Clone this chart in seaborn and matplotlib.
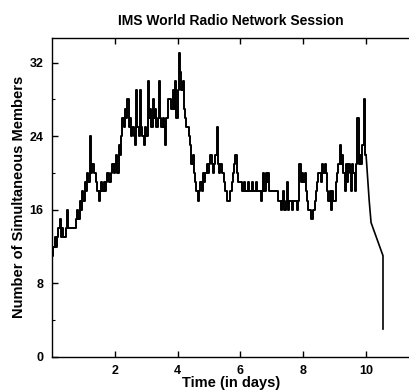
import numpy as np
import pandas as pd
import matplotlib
matplotlib.use("Agg")
import matplotlib.pyplot as plt
from matplotlib.ticker import MultipleLocator
import seaborn as sns

# ---- data ----
step_days = 0.04  # sampling interval of the member-count series (days)
day0 = [11, 12, 13, 12, 13, 14, 15, 13, 14, 13, 13, 14, 16, 14, 14, 14, 14, 14, 14, 15, 16, 15, 17, 16, 18]
day1 = [17, 19, 18, 20, 19, 24, 20, 21, 20, 20, 19, 18, 17, 18, 19, 18, 19, 18, 19, 20, 19, 19, 20, 21, 20]
day2 = [21, 22, 20, 23, 22, 24, 26, 25, 27, 26, 28, 25, 26, 24, 25, 24, 23, 29, 25, 24, 29, 25, 24, 23, 25]
day3 = [24, 30, 26, 27, 25, 28, 26, 27, 25, 26, 30, 26, 25, 26, 25, 23, 26, 28, 28, 28, 27, 29, 27, 30, 26]
day4 = [29, 33, 31, 29, 30, 27, 26, 25, 25, 24, 23, 21, 22, 20, 19, 18, 17, 18, 19, 18, 20, 19, 20, 21, 20]
day5 = [21, 22, 21, 20, 21, 22, 25, 21, 20, 21, 20, 20, 19, 18, 17, 17, 17, 18, 19, 20, 21, 22, 20, 19, 19]
day6 = [19, 18, 18, 19, 18, 18, 19, 18, 18, 19, 18, 18, 19, 18, 18, 18, 17, 18, 20, 18, 20, 19, 20, 18, 18]
day7 = [18, 18, 18, 18, 18, 17, 17, 16, 17, 18, 16, 17, 19, 16, 17, 17, 16, 17, 17, 17, 16, 17, 21, 19, 20]
day8 = [19, 20, 18, 17, 16, 16, 15, 15, 16, 17, 18, 19, 20, 20, 19, 21, 20, 21, 20, 18, 17, 18, 16, 18, 17]
day9 = [17, 19, 20, 21, 23, 21, 22, 20, 18, 21, 19, 21, 20, 18, 21, 20, 18, 21, 26, 21, 22, 21, 23, 28, 22]
# end of session: members leaving
tail_days = [10.00, 10.10, 10.16, 10.54, 10.54]
tail_members = [22, 17, 14.6, 11, 3]

title = "IMS World Radio Network Session"
xlabel = "Time (in days)"
ylabel = "Number of Simultaneous Members"
xticks = [2, 4, 6, 8, 10]
yticks = [0, 8, 16, 24, 32]

# ---- build tables ----
members = day0 + day1 + day2 + day3 + day4 + day5 + day6 + day7 + day8 + day9
members = members + [tail_members[0]]
days = [round(i * step_days, 2) for i in range(len(members))]
df_main = pd.DataFrame({"days": days, "members": members})
df_tail = pd.DataFrame({"days": tail_days, "members": tail_members})

# ---- style ----
sns.set_style("ticks")
plt.rcParams["font.family"] = ["Liberation Sans", "DejaVu Sans"]
plt.rcParams["font.weight"] = "bold"
for key in ["text.color", "axes.labelcolor", "xtick.color", "ytick.color",
            "axes.edgecolor"]:
    plt.rcParams[key] = "black"

fig = plt.figure(figsize=(4.10, 3.90), dpi=100)
ax = fig.add_axes([0.127, 0.085, 0.873, 0.818])

sns.lineplot(data=df_main, x="days", y="members", ax=ax, color="black",
             linewidth=1.4, drawstyle="steps-post", estimator=None, sort=False)
sns.lineplot(data=df_tail, x="days", y="members", ax=ax, color="black",
             linewidth=1.2, estimator=None, sort=False)

ax.set_xlim(0, 11.4)
ax.set_ylim(0, 34.7)
ax.set_xticks(xticks)
ax.set_yticks(yticks)
ax.yaxis.set_minor_locator(MultipleLocator(4))
ax.tick_params(axis="both", which="both", direction="in", top=True, right=False,
               colors="black")
ax.tick_params(axis="both", which="major", length=4, width=1, labelsize=9, pad=6)
ax.tick_params(axis="y", which="minor", length=2, width=0.8)
for lab in ax.get_xticklabels() + ax.get_yticklabels():
    lab.set_fontweight("bold")
    lab.set_color("black")

for side in ["left", "bottom", "top"]:
    ax.spines[side].set_visible(True)
    ax.spines[side].set_linewidth(1.0)
    ax.spines[side].set_color("black")
ax.spines["right"].set_visible(False)

ax.set_title(title, fontsize=10, fontweight="bold", pad=9, color="black")
ax.set_xlabel(xlabel, fontsize=10.5, fontweight="bold", labelpad=-1, color="black")
ax.set_ylabel(ylabel, fontsize=10.5, fontweight="bold", labelpad=3, color="black")

fig.savefig("out.png", dpi=100, facecolor="white")
